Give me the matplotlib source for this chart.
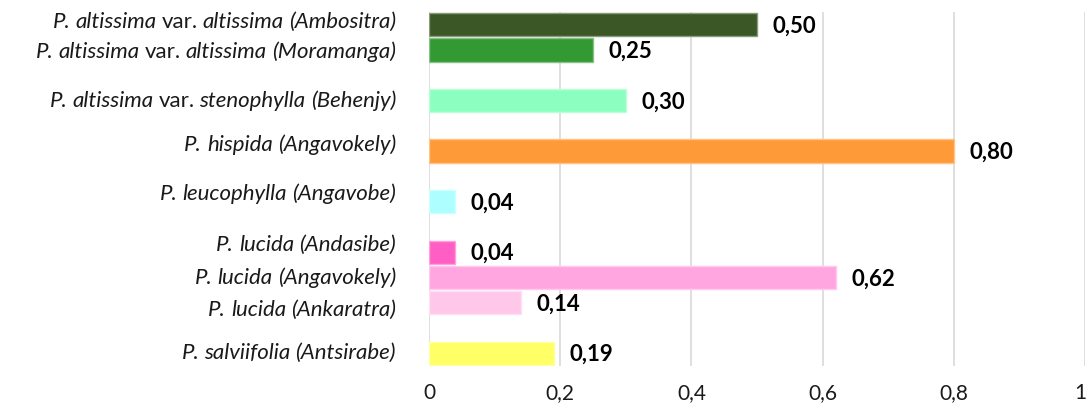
import numpy as np
import matplotlib.pyplot as plt
import matplotlib.colors as mcolors
from matplotlib.offsetbox import TextArea, HPacker, AnnotationBbox

# Données : chaque étiquette est une liste de (texte, italique ?)
labels = [
    [("P. altissima", True), ("var.", False), ("altissima (Ambositra)", True)],
    [("P. altissima", True), ("var.", False), ("altissima (Moramanga)", True)],
    [("P. altissima", True), ("var.", False), ("stenophylla (Behenjy)", True)],
    [("P. hispida (Angavokely)", True)],
    [("P. leucophylla (Angavobe)", True)],
    [("P. lucida (Andasibe)", True)],
    [("P. lucida (Angavokely)", True)],
    [("P. lucida (Ankaratra)", True)],
    [("P. salviifolia (Antsirabe)", True)],
]
values = [0.50, 0.25, 0.30, 0.80, 0.04, 0.04, 0.62, 0.14, 0.19]
colors = ['#3C5726', '#339933', '#8CFFC0', '#FF9A38', '#ADFFFF',
          '#FF5FC5', '#FFA6E0', '#FFC8EB', '#FFFF66']
xticks = [0, 0.2, 0.4, 0.6, 0.8, 1]
xticklabels = ['0', '0,2', '0,4', '0,6', '0,8', '1']

# Position des barres (en créneaux, du haut vers le bas)
slots = [0, 1, 3, 5, 7, 9, 10, 11, 13]
label_shift = [-0.12, 0.08, 0, -0.24, -0.32, -0.28, 0, 0.28, 0]

plt.rcParams['font.family'] = 'Lato'
fs = 16

fig = plt.figure(figsize=(10.89, 4.07), dpi=100)
ax = fig.add_axes([429 / 1089, 1 - 366 / 407, 656 / 1089, 354 / 407])

edges = [tuple(0.6 * np.array(mcolors.to_rgb(c)) + 0.4) for c in colors]
ax.barh(slots, values, height=0.92, color=colors, edgecolor=edges,
        linewidth=1, zorder=3)

for s, v in zip(slots, values):
    ax.text(v + 0.024, s + 0.05, f"{v:.2f}".replace('.', ','),
            va='center', ha='left', fontsize=fs, fontweight='bold',
            color='black')

# Étiquettes des catégories (italique + romain mélangés)
for parts, s, d in zip(labels, slots, label_shift):
    boxes = []
    for txt, it in parts:
        for w in txt.split(' '):
            boxes.append(TextArea(w, textprops=dict(
                fontsize=fs, color='#1a1a1a',
                style='italic' if it else 'normal')))
    pack = HPacker(children=boxes, align='baseline', pad=0, sep=3.6)
    ab = AnnotationBbox(pack, (-33 / 656, s + d),
                        xycoords=ax.get_yaxis_transform(),
                        box_alignment=(1, 0.5), frameon=False, pad=0)
    ax.add_artist(ab)

ax.set_yticks([])
ax.set_ylim(13.5, -0.5)
ax.set_xlim(0, 1)
ax.set_xticks(xticks)
ax.set_xticklabels([])
ax.tick_params(length=0, axis='x')
# libellés de l'axe x (le « 1 » décalé pour rester dans l'image)
for x, t in zip(xticks, xticklabels):
    dx = -5 if x == 1 else 0
    ax.annotate(t, (x, 0), xycoords=ax.get_xaxis_transform(),
                xytext=(dx, -27), textcoords='offset pixels',
                ha='center', va='center', fontsize=15, color='#1a1a1a',
                annotation_clip=False)
ax.grid(axis='x', color='#d9d9d9', linewidth=1.2, zorder=0)
for sp in ax.spines.values():
    sp.set_visible(False)

plt.savefig('out.png', dpi=100)
